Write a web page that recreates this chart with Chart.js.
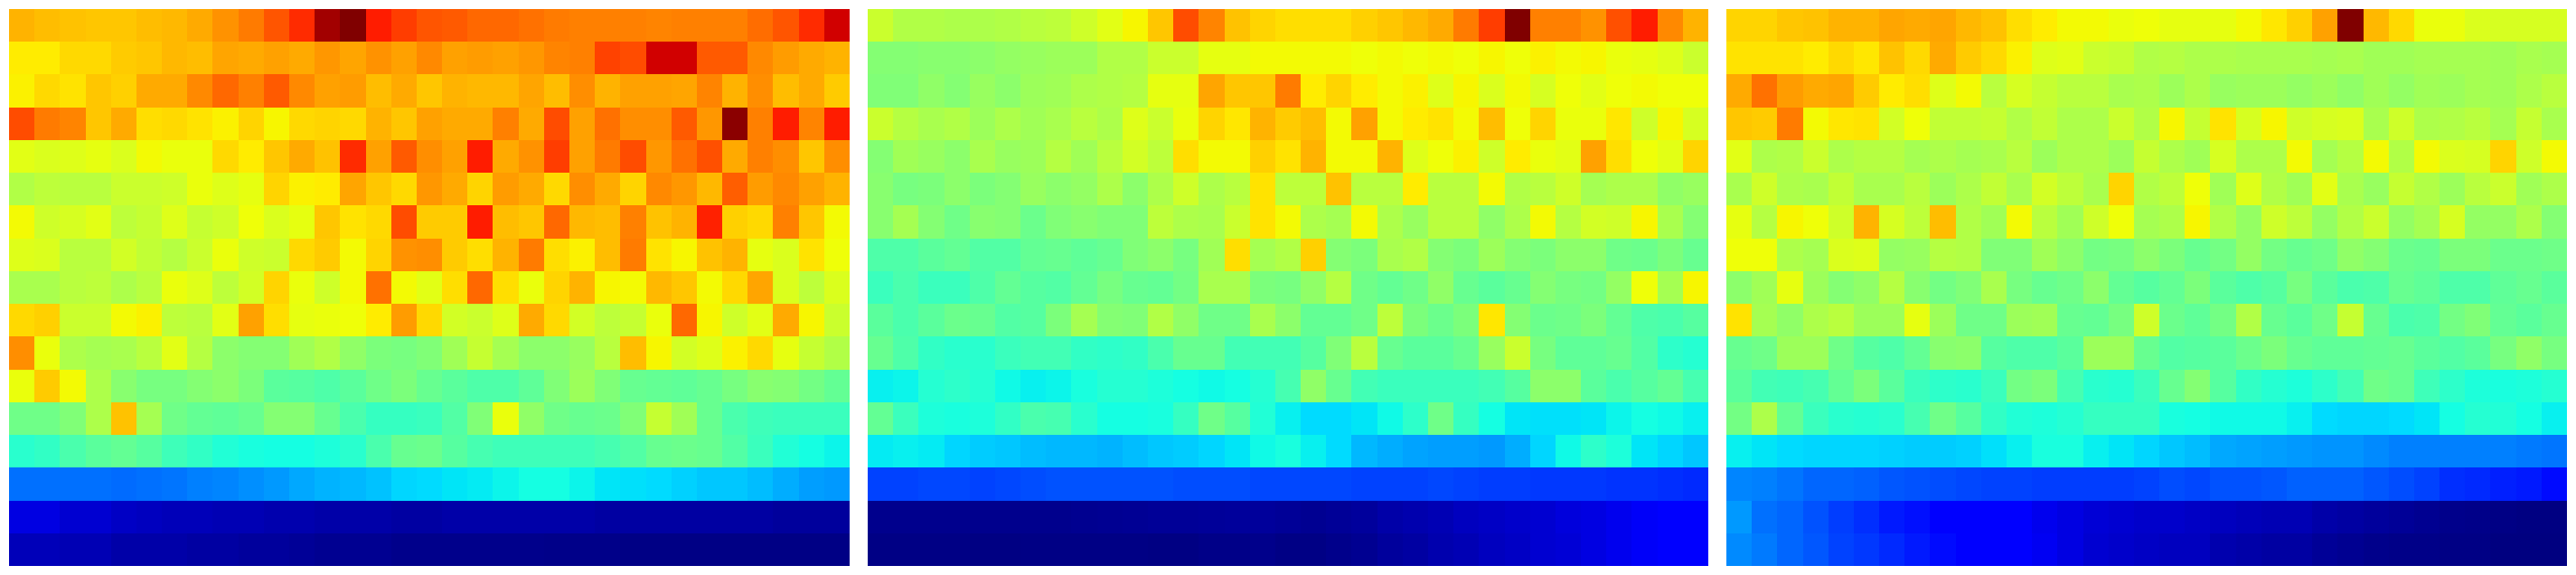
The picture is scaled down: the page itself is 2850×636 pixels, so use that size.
<!DOCTYPE html>
<html>
<head>
<meta charset="utf-8">
<title>heatmaps</title>
<script src="https://cdn.jsdelivr.net/npm/chart.js@4"></script>
<style>
  html, body { margin: 0; padding: 0; background: #ffffff; overflow: hidden; }
  .panel { position: absolute; top: 10px; width: 930px; height: 616px; }
</style>
</head>
<body>
<div class="panel" style="left:10px"><canvas id="heat1" width="930" height="616"></canvas></div>
<div class="panel" style="left:960px"><canvas id="heat2" width="930" height="616"></canvas></div>
<div class="panel" style="left:1910px"><canvas id="heat3" width="930" height="616"></canvas></div>
<script>
// values are positions on the jet scale, 0 to 100, top row first
var panel1 = [
  [72,71,70.5,70,70,71,71.5,73,75.5,78,82,86.5,97,100,88,84.5,82,81.5,80,80,79,78,77.5,77.5,77.5,77,77.5,77.5,77.5,79.5,82,86.5,93],
  [66,66,68,68,69.5,70,71.5,71,73.5,73,74,73,75,73.5,75.5,74,76.5,74,74.5,74,75,77,77.5,84,83,93,93,81.5,81.5,76.5,74.5,73,72],
  [65.5,68,67,70,69,73,73,76.5,80,77.5,81.5,76.5,74,74.5,71,73,70,72,71.5,71.5,73.5,71,76,72,74,74,73.5,77,72,76,71,73,69.5],
  [83,78,77,70,73,67.5,68,67,65.5,68.5,65,68,68.5,68,72,70,74,73,73,77.5,73,83,74,79,76,76,81.5,75,99,77.5,88,77,88],
  [62.5,61.5,62,63,61.5,64.5,63.5,63.5,68,66,70,73,70.5,86.5,74,81.5,76,74,88,73,75.5,84.5,74,78,83,75,79,82.5,73,77.5,76,70,76],
  [56.5,58,57.5,57.5,59.5,59.5,60,63.5,62,63,68.5,65.5,66,73.5,70,68,75,73,68.5,74.5,73,68,76,73,68.5,76.5,75,71.5,81,74.5,76.5,74,72],
  [64.5,60,61,62.5,58,59,62,59,60,64,61.5,63,70,67,68,83,69.5,69.5,88,71,70,80,71.5,71,77.5,70.5,72,87.5,69,68,77.5,70,64.5],
  [62,61.5,57.5,57.5,60.5,58.5,57,59.5,63.5,60,59.5,68,69.5,64.5,68.5,75.5,76,69.5,67.5,72,78,67.5,65.5,71,78,67,65,70.5,72,63,61.5,67,64],
  [55.5,55.5,57.5,58,56,57.5,63.5,62,58,60.5,68.5,63.5,60,64.5,79,64.5,62.5,67.5,80,67.5,63.5,68.5,72,65,64.5,71.5,70,64.5,68,73.5,61.5,58,61.5],
  [68,69,59.5,59.5,64.5,65.5,58,57.5,62.5,74,67.5,63,63.5,64,66,74.5,68,60.5,59.5,62,73,68,60.5,58,59,63.5,80,65,60,62.5,73,65,59.5],
  [76,63.5,56,55,55.5,57.5,62.5,57,52,51,51,54.5,56.5,52.5,50,49.5,50.5,54.5,59,55,52,52,53.5,57.5,71,65,60.5,62,65.5,68,63,59,56.5],
  [63.5,69.5,64.5,56,51.5,49.5,49.5,51,52,50,46,45.5,44.5,46,48.5,50,47.5,46,44.5,44.5,46.5,50.5,54,50.5,47.5,47,46.5,47.5,49.5,51.5,51,49,47],
  [48.5,48.5,50.5,56,70.5,55,48.5,47,46.5,47.5,51,51,47.5,44,41.5,41.5,42,45,50.5,63.5,52.5,48.5,47.5,48,50.5,59,54.5,47.5,44,42.5,42,42,42],
  [40,41,44,46,47,45.5,42.5,41,39,38,37.5,37.5,38.5,40,44,47.5,48,45.5,43.5,42.5,42.5,42.5,42.5,43.5,45,47.5,48,47.5,45,42,39,37.5,36.5],
  [23.5,23.5,23.5,23.5,23,23.5,24,25,25.5,26.5,27.5,29,30,30.5,31.5,33.5,34,35,35.5,36.5,37.5,37.5,36.5,35,34.5,34,33,32,32,31,29.5,28,27.5],
  [8.5,8.5,7,7,6,5.5,5,5,4.5,4.5,4,4,3.5,3.5,3.5,3,3,3.5,3.5,3.5,3.5,3.5,3.5,3,3,3,3,3,3,3,2.5,2.5,2.5],
  [5,5,4.5,4.5,3.5,3.5,3.5,3,3,2.5,2.5,2,1.5,1.5,1.5,1,1,1,1,1,1,0.8,0.8,0.8,0.5,0.5,0.5,0.5,0.5,0.5,0.5,0.5,0.5]
];

var panel2 = [
  [59.5,56.5,56.5,56,56,56.5,57.5,58,60,62.5,65,70,83,77,70.5,68.5,67.5,67.5,67.5,69,70,71.5,73,78,84.5,100,77.5,77.5,75.5,82.5,88,76.5,72],
  [51,51,51.5,51.5,52,53,53.5,54,54,56.5,56.5,59.5,59.5,63,63,64.5,64.5,64.5,64.5,64,64.5,64,64.5,64,65,64,65.5,64.5,65,63.5,63,62,59.5],
  [50.5,50.5,52.5,51,53.5,52,54,54.5,56,56.5,57,63,63,73.5,70,70,78,66,68.5,66,64.5,65.5,62,65,61.5,64.5,61,64,62.5,64,64.5,64,64],
  [59.5,57,55.5,56.5,54,56,54.5,55.5,57.5,56,62,59.5,63.5,68.5,66.5,72,69.5,71,64.5,74,64.5,66,67,64.5,71,64,68.5,63.5,63.5,66.5,60,65,61],
  [51,54.5,53.5,52,55.5,53.5,54,57,54.5,57.5,60.5,58,67.5,64.5,64.5,69,67,72,64.5,64.5,72,62,64,65.5,60,66,63.5,62.5,74,67.5,64,62.5,68.5],
  [51.5,49.5,50,52,50,51,53.5,52,53,56,52,56,60,56,57.5,67,58,58,70.5,57.5,57.5,66,57.5,57.5,64.5,56.5,57.5,60,55,56,56,52.5,53.5],
  [51.5,55,51,48.5,51.5,51,48,50.5,51.5,50.5,50.5,58,56,55.5,59.5,67,64.5,56,55,64.5,56,53.5,57.5,57.5,52.5,56,64.5,57,60.5,60,65,55.5,51],
  [44.5,44.5,46,47,45,45,47,47.5,46.5,47.5,50.5,52,49.5,54.5,67.5,55,56.5,69,51,50,55.5,56.5,51,50,54,51,50,52,52,48.5,48,50,47.5],
  [42,44,42,42,44.5,47,45.5,45,47,49.5,47.5,47,49,55.5,55.5,50,49.5,52.5,57,48.5,47,48.5,52.5,47.5,46,47.5,51,49.5,49,53,64,55,65],
  [46,44,46,48,47.5,45,45.5,50,55,51,50.5,56.5,52.5,48.5,48.5,55.5,52,47,47,48.5,58,50,48,50,66.5,51,48,48.5,50,47,44.5,44,45.5],
  [47.5,44.5,41,40,40,42,43,43,41,40.5,41,44,47.5,47.5,43,43,43,45.5,50.5,57.5,47.5,46,46,47.5,53.5,59.5,49.5,46.5,46.5,47.5,45,40.5,39.5],
  [36,36.5,39.5,40.5,39.5,37,36,36.5,38,39.5,39.5,38.5,37.5,37,37.5,39.5,43.5,52.5,47.5,43,42,42,42,42,43,45.5,52,52,46,44,45.5,47,43.5],
  [47,42,38.5,38,38.5,41,44,43.5,40,37.5,37.5,38,41.5,48.5,45.5,39,36,34,34,35,37,40.5,48.5,41.5,37.5,35,34.5,34.5,35,36.5,37.5,37,36],
  [35.5,36,35.5,33.5,32.5,32,31,30.5,30.5,30,31,32,32.5,33.5,35,37,38,36,34,30.5,29.5,28.5,28,28,27.5,29.5,33.5,37,40.5,38.5,35,33.5,32],
  [19,19,19.5,19.5,19,19.5,20,20.5,20.5,20.5,20.5,20.5,20,20,20,19.5,19.5,19.5,19.5,19,19,19,19.5,19,18.5,18.5,18,18,18,17.5,17.5,17,16.5],
  [1.2,1.2,1.2,1.2,1.2,1.2,1.2,1.2,1.4,1.6,1.8,2,2,2.2,2.4,2.4,2,1.6,2,2.5,3.5,4,4.5,5.5,6,6.5,7,8,8.5,9.5,10.5,11.5,12],
  [0.5,0.5,0.5,0.5,0.3,0.3,0.5,0.5,0.5,0.5,0.5,0.3,0.3,0.7,0.7,1,0.5,0.5,1,1.5,2.5,3,4,4.5,5.5,6,7,7.5,8.5,9.5,10.5,11.5,12]
];

var panel3 = [
  [68.5,68.5,70,70.5,72,72,73.5,73,73.5,71.5,70.5,67.5,66,64.5,64.5,63.5,64,63,63,63,64.5,66.5,69,74,100,71.5,68,63.5,63.5,61.5,61,61,61],
  [67,67,67,66,68,66.5,70.5,68,73,69.5,68,65.5,62,62.5,59.5,59,56.5,57,56,56,55.5,55.5,55.5,55,55.5,54.5,54.5,55,55,55,54.5,55.5,55],
  [73,79,74.5,73,73.5,69.5,66,67.5,62,64.5,57.5,61,59,57.5,57.5,55.5,56,54,56,53.5,54,54,53,54,52.5,54.5,53,54.5,54,55,54.5,56,57.5],
  [70,69.5,78,64.5,66.5,67,60.5,64,58.5,58.5,59,56.5,58.5,56,56,59.5,56.5,65,59,67,61,65,60,61,61.5,55.5,60,56,56.5,57.5,55,59,55.5],
  [62.5,56,56.5,59.5,56,57,57,55,56,55,55.5,57.5,54,56,56,54,59,56,54.5,61,56,56,64.5,55,57,64.5,56.5,64.5,61.5,61,68.5,60,64.5],
  [55.5,60,56,55.5,58.5,55.5,55.5,57.5,54,56,58.5,55.5,60.5,58,55.5,68.5,56.5,58,64,54.5,62,56.5,54.5,62.5,55.5,53.5,59,56.5,54,57.5,59.5,54.5,56],
  [63,57,65,64,60,72,61,58,71,56.5,54.5,64.5,57.5,54.5,60,64,55,56,65,56.5,53,60,58,53,56.5,59.5,53,55,61,53,53,56,51],
  [64,64,56,55,61.5,62,53,53.5,57,56.5,50.5,50.5,54.5,52,49,49.5,52,50,47.5,49,53,49,47.5,48.5,52.5,51,48,47.5,50,50,48,48,48.5],
  [52,54.5,63,54,51,52.5,57,51.5,49,50.5,55.5,49.5,47.5,48.5,52,47,45.5,47,50,46,44.5,45.5,49.5,46,44,44.5,47.5,46.5,44.5,44.5,46.5,47.5,46],
  [67,55,52.5,56,57.5,54,54,63,54,48.5,48.5,54,54.5,47.5,47,49.5,60,48,46.5,49,56.5,47.5,46,48.5,59,47.5,44,44.5,49,50.5,47,46,47.5],
  [47.5,48.5,54,54,48.5,45.5,44.5,47,51.5,52,45.5,44.5,44.5,46,54,54,47.5,45,45.5,46,48,50,47.5,46.5,46.5,47,47.5,46,45,46,49.5,52.5,49.5],
  [46,43,42.5,43.5,47,50,46,42,40.5,40,42,49,50,43.5,40,39.5,42,47.5,51,45.5,41,39.5,38.5,40.5,43,48.5,47.5,42.5,40.5,38.5,38,38.5,39.5],
  [49,56,47,42,40,39.5,40,43.5,48.5,45.5,41,39,38.5,39.5,41.5,41.5,41.5,38,37.5,37,37,37,36,34,33.5,33.5,34,35,37.5,39.5,39,37.5,36],
  [36,35,34,33.5,33.5,33.5,33,32.5,32.5,33,34.5,36,38,38,36,35,33.5,32,31,29,28.5,28,27.5,27,27,26,25,25,25,25,25,24.5,24],
  [25.5,25,24,22.5,22.5,22,21,20.5,20,19.5,19,19,18.5,18.5,18.5,18.5,19,20,19.5,20.5,20.5,21,22,22,22,21,20,19,17,16.5,15.5,15,13.5],
  [27.5,23.5,22.5,20.5,18.5,17,15,14,12.5,12,12,11.5,9.5,8.5,7.5,7,6.5,6.5,6,5.5,5,4.5,4.5,3.5,3,2.5,2,1.5,1,0.8,0.5,0.2,0.2],
  [26,24.5,22.5,21,19,18,16.5,15,13.5,12,12,11.5,10,8.5,7,6.5,6,5.5,5.5,4,3.5,3,3,2,1.5,1,0.7,0.7,0.5,0.5,0,0,0]
];

var columns = [];
for (var c = 1; c <= 33; c++) {
  columns.push(c);
}

// matplotlib's jet, piecewise linear
function ramp(stops, v) {
  for (var i = 1; i < stops.length; i++) {
    if (v <= stops[i][0]) {
      var a = stops[i - 1], b = stops[i];
      return a[1] + (b[1] - a[1]) * (v - a[0]) / (b[0] - a[0]);
    }
  }
  return stops[stops.length - 1][1];
}
var jetRed = [[0, 0], [0.35, 0], [0.66, 1], [0.89, 1], [1, 0.5]];
var jetGreen = [[0, 0], [0.125, 0], [0.375, 1], [0.64, 1], [0.91, 0], [1, 0]];
var jetBlue = [[0, 0.5], [0.11, 1], [0.34, 1], [0.65, 0], [1, 0]];

function jet(value) {
  var v = value / 100;
  var r = Math.round(ramp(jetRed, v) * 255);
  var g = Math.round(ramp(jetGreen, v) * 255);
  var b = Math.round(ramp(jetBlue, v) * 255);
  return 'rgb(' + r + ',' + g + ',' + b + ')';
}

// cells stay on whole pixels, like an image drawn without smoothing
var snapCells = {
  id: 'snapCells',
  afterDatasetsUpdate: function (chart) {
    chart.getSortedVisibleDatasetMetas().forEach(function (meta) {
      meta.data.forEach(function (bar) {
        var left = Math.round(bar.x - bar.width / 2);
        var right = Math.round(bar.x + bar.width / 2);
        bar.x = (left + right) / 2;
        bar.width = right - left;
        bar.y = Math.round(bar.y);
        bar.base = Math.round(bar.base);
        bar.height = bar.base - bar.y;
      });
    });
  }
};

function drawPanel(id, rows) {
  var datasets = rows.map(function (row, r) {
    return {
      label: 'row ' + r,
      data: row.map(function () { return [r, r + 1]; }),
      backgroundColor: row.map(jet),
      borderWidth: 0,
      inflateAmount: 0,
      grouped: false,
      barPercentage: 1,
      categoryPercentage: 1
    };
  });

  return new Chart(document.getElementById(id).getContext('2d'), {
    type: 'bar',
    data: { labels: columns, datasets: datasets },
    plugins: [snapCells],
    options: {
      responsive: false,
      animation: false,
      events: [],
      layout: { padding: 0 },
      plugins: {
        legend: { display: false },
        tooltip: { enabled: false }
      },
      scales: {
        x: { display: false },
        y: { display: false, min: 0, max: rows.length, reverse: true }
      }
    }
  });
}

var chart1 = drawPanel('heat1', panel1);
var chart2 = drawPanel('heat2', panel2);
var chart3 = drawPanel('heat3', panel3);
</script>
</body>
</html>
